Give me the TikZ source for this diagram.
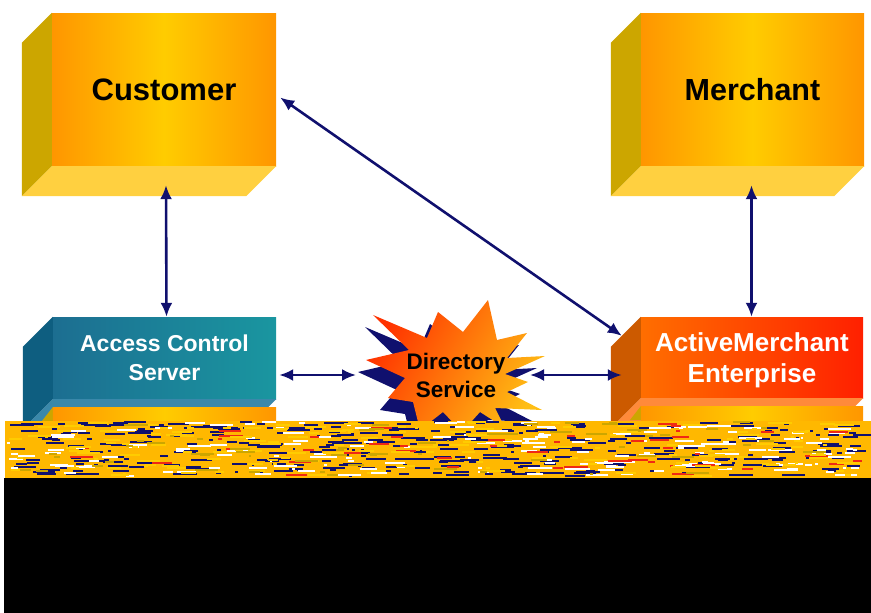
\documentclass[tikz,border=0pt]{standalone}
\usepackage{fontspec}
\setmainfont{Liberation Sans}
\usetikzlibrary{arrows.meta}

\definecolor{linkblue}{RGB}{16,16,110}
\definecolor{custedge}{RGB}{255,150,0}
\definecolor{custmid}{RGB}{255,204,0}
\definecolor{custside}{RGB}{204,166,0}
\definecolor{custbottom}{RGB}{255,208,64}
\definecolor{acsleft}{RGB}{28,110,145}
\definecolor{acsright}{RGB}{26,150,160}
\definecolor{acsside}{RGB}{14,94,128}
\definecolor{acsbottom}{RGB}{58,136,170}
\definecolor{ameleft}{RGB}{255,110,0}
\definecolor{ameright}{RGB}{255,32,0}
\definecolor{ameside}{RGB}{204,90,0}
\definecolor{amebottom}{RGB}{255,138,58}
\definecolor{dirred}{RGB}{255,50,0}
\definecolor{diryellow}{RGB}{255,190,20}
\definecolor{noiseorange}{RGB}{255,184,0}
\definecolor{noisered}{RGB}{240,40,20}

\tikzset{
  face/.style={rectangle, inner sep=0pt, align=center, font=\bfseries},
  bigtext/.style={font=\fontsize{31}{33}\selectfont\bfseries},
  smalltext/.style={text=white, font=\fontsize{23}{29}\selectfont\bfseries},
  goldface/.style={left color=custedge, right color=custedge, middle color=custmid},
  link/.style={linkblue, line width=2.6pt, {Latex[length=14pt,width=12pt]}-{Latex[length=14pt,width=12pt]}},
  burst/.pic={
    \path[pic actions] (-82,-53) -- (-28,-30) -- (-17,-56) -- (8,-36) -- (33,-68) -- (42,-28)
      -- (72,-35) -- (52,-10) -- (90,-12) -- (50,6) -- (73,14) -- (52,24) -- (87,42) -- (40,40)
      -- (50,60) -- (25,44) -- (7,64) -- (-12,44) -- (-35,62) -- (-42,34) -- (-67,30) -- (-50,10)
      -- (-89,-8) -- (-46,-18) -- cycle;
  }
}

\begin{document}
\begin{tikzpicture}[x=1pt, y=-1pt]
  \useasboundingbox (0,0) rectangle (871,613);

  % Kunde und Haendler
  \node[face, bigtext, goldface, minimum width=224pt, minimum height=153pt] (cust) at (164,89.5) {Customer};
  \node[face, bigtext, goldface, font=\fontsize{30.5}{33}\selectfont\bfseries,
    minimum width=223pt, minimum height=153pt] (merch) at (752.5,89.5) {Merchant};

  % Server
  \node[face, smalltext, minimum width=223pt, minimum height=82pt,
    left color=acsleft, right color=acsright] (acs) at (164.5,358) {Access Control\\Server};
  \node[face, smalltext, font=\fontsize{26}{31}\selectfont\bfseries, minimum width=222pt, minimum height=81pt,
    left color=ameleft, right color=ameright] (ame) at (752,357.5) {ActiveMerchant\\\smash{Enterprise}};

  % Seiten- und Bodenflaechen
  \foreach \n/\sc/\bc in {cust/custside/custbottom, merch/custside/custbottom,
                          acs/acsside/acsbottom, ame/ameside/amebottom} {
    \fill[\sc] (\n.north west) -- ++(-30,30) -- ([shift={(-30,30)}]\n.south west) -- (\n.south west) -- cycle;
    \fill[\bc] (\n.south west) -- ++(-30,30) -- ([shift={(-30,30)}]\n.south east) -- (\n.south east) -- cycle;
  }

  % untere Kisten
  \foreach \n in {acs, ame} {
    \fill[custside] ([yshift=-8pt]\n.south west) -- ([shift={(-11,22)}]\n.south west) -- ([yshift=-22pt]\n.south west) -- cycle;
    \fill[goldface] ([yshift=-8pt]\n.south west) rectangle ([yshift=-22pt]\n.south east);
  }

  % Directory Service
  \pic[fill=linkblue] at (447,380) {burst};
  \pic[left color=dirred, right color=diryellow, shading angle=60] at (455,368) {burst};
  \node[font=\fontsize{22.5}{28}\selectfont\bfseries, align=center] (dir) at (456,375) {Directory\\Service};

  % Verbindungen
  \draw[link] ([shift={(2,19)}]cust.south) -- ([xshift=2pt]acs.north);
  \draw[link] ([shift={(-1,19)}]merch.south) -- ([xshift=-1pt]merch.south |- ame.north);
  \draw[link] ([shift={(4,8)}]cust.east) -- ([shift={(-19,19)}]ame.north west);
  \draw[link, shorten <=3pt, shorten >=100pt] (acs.east |- dir.center) -- (dir.center);
  \draw[link, shorten <=74pt, shorten >=19pt] (dir.center) -- (ame.west |- dir.center);

  % gestoerter Bildteil
  \fill[noiseorange] (5,421) rectangle (871,478);
  \pgfmathsetseed{42}
  \foreach \c/\k in {linkblue/360, white/180, noisered/50, custmid/160, custside/60} {
    \foreach \i in {1,...,\k} {
      \pgfmathsetmacro\nx{5+850*rnd}
      \pgfmathsetmacro\ny{421+54*rnd}
      \pgfmathsetmacro\nl{2+22*rnd}
      \fill[\c] (\nx,\ny) rectangle ++(\nl,2);
    }
  }
  \fill[black] (4,478) rectangle (871,613);
\end{tikzpicture}
\end{document}
